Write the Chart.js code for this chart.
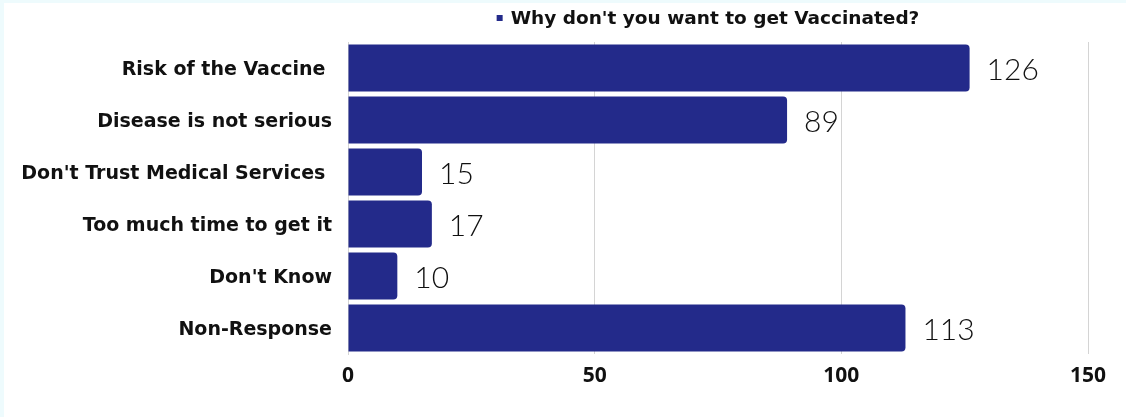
<!DOCTYPE html>
<html>
<head>
<meta charset="utf-8">
<script src="https://cdn.jsdelivr.net/npm/chart.js@4.4.0/dist/chart.umd.min.js"></script>
<style>
  html, body { margin: 0; padding: 0; background: #eefbfd; width: 1126px; height: 417px; overflow: hidden; }
  #wrap { position: absolute; left: 4px; top: 3px; width: 1122px; height: 414px; background: #ffffff; }
  canvas { display: block; }
</style>
</head>
<body>
<div id="wrap"><canvas id="c" width="1122" height="414"></canvas></div>
<script>
const categories = ["Risk of the Vaccine ", "Disease is not serious", "Don't Trust Medical Services ", "Too much time to get it", "Don't Know", "Non-Response"];
const values = [126, 89, 15, 17, 10, 113];
const seriesName = "Why don't you want to get Vaccinated?";
const xTicks = [0, 50, 100, 150];

const barColor = '#232a8a';

const valueLabels = {
  id: 'valueLabels',
  afterDatasetsDraw(chart) {
    const ctx = chart.ctx;
    const meta = chart.getDatasetMeta(0);
    ctx.save();
    ctx.font = '300 30px Lato, "Open Sans", sans-serif';
    ctx.fillStyle = '#111111';
    ctx.textAlign = 'left';
    ctx.textBaseline = 'middle';
    meta.data.forEach((bar, i) => {
      ctx.fillText(String(values[i]), bar.x + 17, bar.y + 2);
    });
    ctx.restore();
  }
};

const legendTop = {
  id: 'legendTop',
  afterDraw(chart) {
    const ctx = chart.ctx;
    const area = chart.chartArea;
    ctx.save();
    ctx.font = 'bold 18.5px "DejaVu Sans", sans-serif';
    const tw = ctx.measureText(seriesName).width;
    const box = 6, gap = 8;
    const total = box + gap + tw;
    const cx = (area.left + area.right) / 2 - 10;
    const x0 = cx - total / 2;
    const y = 15;
    ctx.fillStyle = barColor;
    ctx.fillRect(x0, y - box / 2, box, box);
    ctx.fillStyle = '#111111';
    ctx.textAlign = 'left';
    ctx.textBaseline = 'middle';
    ctx.fillText(seriesName, x0 + box + gap, y + 1);
    ctx.restore();
  }
};

new Chart(document.getElementById('c'), {
  type: 'bar',
  data: {
    labels: categories,
    datasets: [{
      label: seriesName,
      data: values,
      backgroundColor: barColor,
      borderRadius: 4,
      borderSkipped: 'start',
      barPercentage: 0.9,
      categoryPercentage: 1.0
    }]
  },
  options: {
    indexAxis: 'y',
    responsive: false,
    animation: false,
    layout: { padding: { top: 39, right: 38, left: 0, bottom: 0 } },
    plugins: {
      legend: { display: false },
      tooltip: { enabled: false }
    },
    scales: {
      x: {
        min: 0,
        max: 150,
        afterBuildTicks(scale) { scale.ticks = xTicks.map(v => ({ value: v })); },
        afterFit(scale) { scale.height = 63; },
        grid: { color: '#d4d4d4', lineWidth: 1, drawTicks: false },
        border: { display: false },
        ticks: {
          padding: 9,
          color: '#111111',
          font: { family: '"Liberation Sans Narrow", "Open Sans", sans-serif', size: 21, weight: 'bold' }
        }
      },
      y: {
        afterFit(scale) { scale.width = 344; },
        grid: { display: false, drawTicks: false },
        border: { display: true, color: '#d4d4d4', width: 1 },
        ticks: {
          padding: 16,
          labelOffset: 2,
          color: '#111111',
          font: { family: '"DejaVu Sans", sans-serif', size: 19, weight: 'bold' }
        }
      }
    }
  },
  plugins: [valueLabels, legendTop]
});
</script>
</body>
</html>
